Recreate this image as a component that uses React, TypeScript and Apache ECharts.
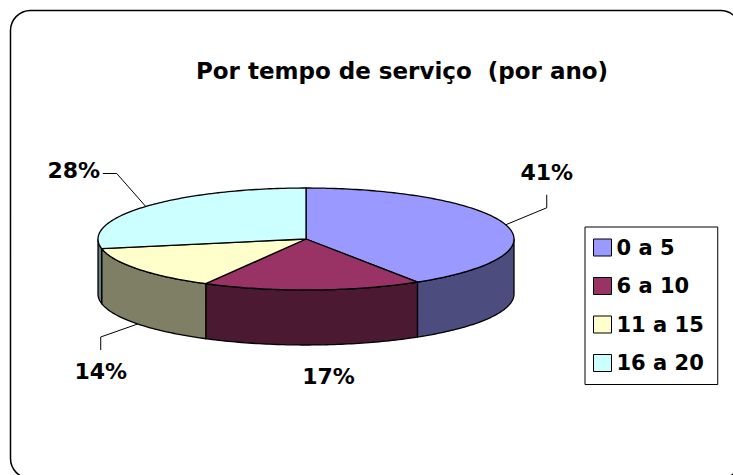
import React, { useEffect, useRef } from "react";
import * as echarts from "echarts";

const TITLE = "Por tempo de serviço  (por ano)";
const CATEGORIES = ["0 a 5", "6 a 10", "11 a 15", "16 a 20"];
const VALUES = [41, 17, 14, 28];

const TOP_COLORS = ["#9999FF", "#993366", "#FFFFCC", "#CCFFFF"];
const SIDE_COLORS = ["#4C4C7F", "#4C1933", "#7F7F66", "#667F7F"];
// label offset from its anchor on the pie edge (px)
const LABEL_OFFSETS = [
  [41, -52],
  [16, 32],
  [-37, 48],
  [-72, -36],
];

const CX = 306;
const CY = 239;
const RX = 208;
const RY = 51;
const DEPTH = 55;
const FONT = "DejaVu Sans";

function pt(tDeg: number, dy = 0): number[] {
  const r = (tDeg * Math.PI) / 180;
  return [CX + RX * Math.sin(r), CY - RY * Math.cos(r) + dy];
}

function arc(a: number, b: number, dy = 0): number[][] {
  const n = Math.max(2, Math.ceil(Math.abs(b - a)) + 1);
  const out: number[][] = [];
  for (let k = 0; k < n; k++) out.push(pt(a + ((b - a) * k) / (n - 1), dy));
  return out;
}

const TOTAL = VALUES.reduce((s, v) => s + v, 0);

function makeRenderItem(i: number) {
  return (params: any, api: any) => {
    const value = api.value(0);
    const before = VALUES.slice(0, i).reduce((s, v) => s + v, 0);
    const start = (before / TOTAL) * 360;
    const end = start + (value / TOTAL) * 360;
    const children: any[] = [];
    const a = Math.max(start, 90);
    const b = Math.min(end, 270);
    if (b > a) {
      const pts = arc(a, b).concat(arc(b, a, DEPTH));
      children.push({
        type: "polygon",
        shape: { points: pts },
        style: { fill: SIDE_COLORS[i], stroke: "#000", lineWidth: 1.3 },
      });
    }
    children.push({
      type: "polygon",
      shape: { points: [[CX, CY]].concat(arc(start, end)) },
      style: { fill: TOP_COLORS[i], stroke: "#000", lineWidth: 1.3 },
    });
    const mid = (start + end) / 2;
    const front = Math.cos((mid * Math.PI) / 180) < 0;
    const anchor = pt(mid, front ? DEPTH : 0);
    const [dx, dy] = LABEL_OFFSETS[i];
    const lx = anchor[0] + dx;
    const ly = anchor[1] + dy;
    if (Math.hypot(dx, dy) > 45) {
      let pts: number[][];
      if (Math.abs(dy) > Math.abs(dx)) {
        const s = dy < 0 ? -1 : 1;
        pts = [anchor, [lx, ly - s * 35], [lx, ly - s * 22]];
      } else {
        const s = dx < 0 ? -1 : 1;
        pts = [anchor, [lx - s * 43, ly + 3], [lx - s * 29, ly + 3]];
      }
      children.push({
        type: "polyline",
        shape: { points: pts },
        style: { fill: "none", stroke: "#000", lineWidth: 1 },
      });
    }
    children.push({
      type: "text",
      x: lx,
      y: ly,
      style: {
        text: Math.round((value / TOTAL) * 100) + "%",
        fill: "#000",
        fontSize: 22,
        fontWeight: "bold",
        fontFamily: FONT,
        align: "center",
        verticalAlign: "middle",
      },
    });
    return { type: "group", children };
  };
}

export default function App() {
  const ref = useRef<HTMLDivElement>(null);
  useEffect(() => {
    if (!ref.current) return;
    const chart = echarts.init(ref.current, undefined, { renderer: "svg" });
    chart.setOption({
      animation: false,
      backgroundColor: "#fff",
      color: TOP_COLORS,
      graphic: [
        {
          type: "rect",
          shape: { x: 10.5, y: 10.5, width: 730, height: 468, r: 20 },
          style: { fill: "none", stroke: "#000", lineWidth: 1.5 },
          z: -1,
        },
        {
          type: "text",
          x: 402,
          y: 71,
          style: {
            text: TITLE,
            fill: "#000",
            fontSize: 23,
            fontWeight: "bold",
            fontFamily: FONT,
            align: "center",
            verticalAlign: "middle",
          },
        },
      ],
      legend: {
        orient: "vertical",
        left: 585,
        top: 227,
        icon: "rect",
        itemWidth: 18,
        itemHeight: 17,
        itemGap: 17.5,
        padding: [10, 14, 11, 8],
        borderColor: "#000",
        borderWidth: 1,
        selectedMode: false,
        textStyle: { fontSize: 21, fontWeight: "bold", fontFamily: FONT, color: "#000" },
        itemStyle: { borderColor: "#000", borderWidth: 1 },
        data: CATEGORIES,
      },
      series: CATEGORIES.map((name, i) => ({
        type: "custom",
        name,
        coordinateSystem: "none",
        itemStyle: { color: TOP_COLORS[i] },
        data: [VALUES[i]],
        renderItem: makeRenderItem(i),
      })),
    });
    return () => chart.dispose();
  }, []);
  return (
    <div
      ref={ref}
      style={{ position: "absolute", left: 0, top: 0, width: 733, height: 475 }}
    />
  );
}
